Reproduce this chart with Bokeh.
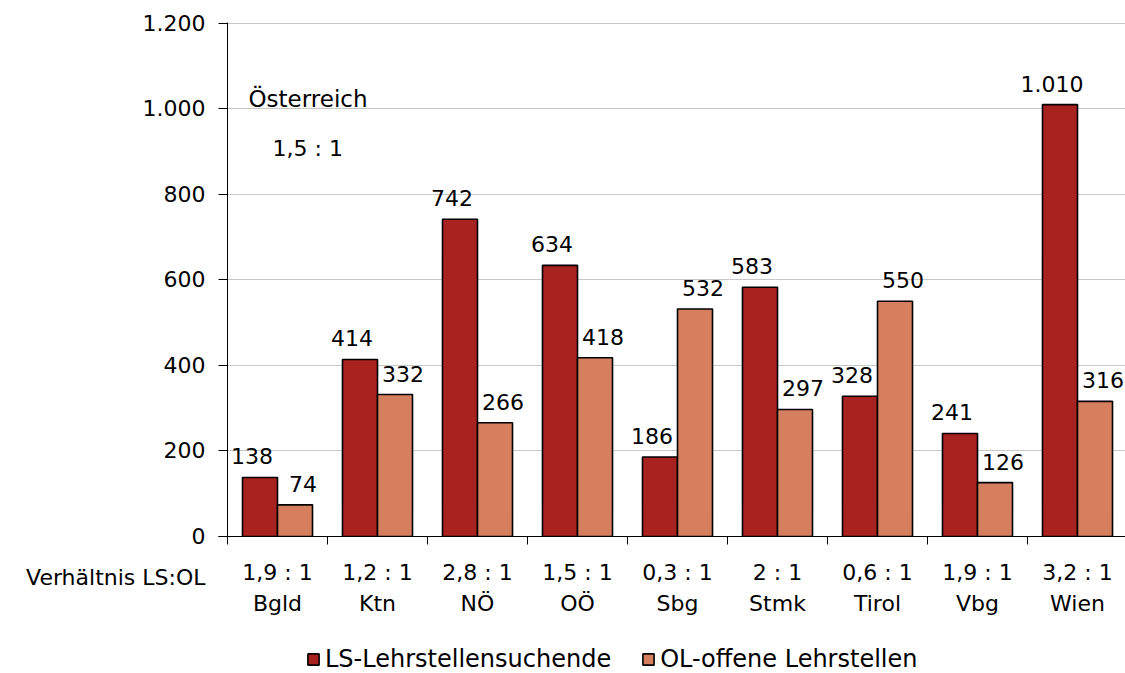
import numpy as np
from bokeh.plotting import figure
from bokeh.layouts import column
from bokeh.models import (Range1d, FixedTicker, Label, Legend, LegendItem, ColumnDataSource)
from bokeh.core.properties import value
from bokeh.embed import file_html
from bokeh.resources import INLINE

regions = ["Bgld", "Ktn", "NÖ", "OÖ", "Sbg", "Stmk", "Tirol", "Vbg", "Wien"]
ratios = ["1,9 : 1", "1,2 : 1", "2,8 : 1", "1,5 : 1", "0,3 : 1", "2 : 1", "0,6 : 1", "1,9 : 1", "3,2 : 1"]
ls_values = [138, 414, 742, 634, 186, 583, 328, 241, 1010]
ol_values = [74, 332, 266, 418, 532, 297, 550, 126, 316]
y_ticks = [0, 200, 400, 600, 800, 1000, 1200]
series_names = ["LS-Lehrstellensuchende", "OL-offene Lehrstellen"]
austria_label = "Österreich"
austria_ratio = "1,5 : 1"
row_label = "Verhältnis LS:OL"

FONT = "DejaVu Sans"
DARK = "#A8231F"
LIGHT = "#D67F5E"

def fmt(v):
    return f"{v:,}".replace(",", ".")

p = figure(width=1125, height=636, output_backend="svg", toolbar_location=None,
           x_range=Range1d(0, 8.98), y_range=Range1d(0, 1202),
           min_border_left=227, min_border_right=0, min_border_top=22, min_border_bottom=100)
p.outline_line_color = None

centers = np.arange(len(regions)) + 0.5
bw = 0.35
src_ls = ColumnDataSource(dict(x=centers - bw / 2, top=ls_values, lab=[fmt(v) for v in ls_values]))
src_ol = ColumnDataSource(dict(x=centers + bw / 2, top=ol_values, lab=[fmt(v) for v in ol_values]))

r1 = p.vbar(x="x", top="top", width=bw, source=src_ls, fill_color=DARK, line_color="black", line_width=1.6)
r2 = p.vbar(x="x", top="top", width=bw, source=src_ol, fill_color=LIGHT, line_color="black", line_width=1.6)

for s, xo in ((src_ls, -8), (src_ol, 8)):
    p.text(x="x", y="top", text="lab", source=s, text_align="center", text_baseline="alphabetic",
           x_offset=xo, y_offset=-21, text_font=value(FONT), text_font_size="22px", text_color="black")

# y axis (an extra tick just above 0 carries the row caption "Verhältnis LS:OL" below the axis)
row_tick = 0.5
p.yaxis.ticker = FixedTicker(ticks=y_ticks + [row_tick])
overrides = {t: fmt(t) for t in y_ticks}
overrides[row_tick] = "\n\n\n" + row_label
p.yaxis.major_label_overrides = overrides
p.yaxis.major_label_text_font = FONT
p.yaxis.major_label_text_font_size = "22px"
p.yaxis.major_label_text_line_height = 1.1
p.yaxis.major_label_text_color = "black"
p.yaxis.axis_line_color = "black"
p.yaxis.major_tick_line_color = "black"
p.yaxis.major_tick_out = 9
p.yaxis.major_tick_in = 0
p.yaxis.minor_tick_line_color = None
p.yaxis.major_label_standoff = 13

# x axis
p.xaxis.ticker = FixedTicker(ticks=list(centers), minor_ticks=list(range(len(regions) + 1)))
p.xaxis.major_label_overrides = {float(c): f"{r}\n{n}" for c, r, n in zip(centers, ratios, regions)}
p.xaxis.major_label_text_font = FONT
p.xaxis.major_label_text_font_size = "22px"
p.xaxis.major_label_text_color = "black"
p.xaxis.major_label_text_line_height = 1.27
p.xaxis.axis_line_color = "black"
p.xaxis.major_tick_line_color = None
p.xaxis.major_tick_out = 0
p.xaxis.major_tick_in = 0
p.xaxis.minor_tick_line_color = "black"
p.xaxis.minor_tick_out = 8
p.xaxis.minor_tick_in = 0
p.xaxis.major_label_standoff = 15

p.xgrid.grid_line_color = None
p.ygrid.grid_line_color = "#C8C8C8"
p.ygrid.ticker = FixedTicker(ticks=y_ticks)

p.add_layout(Label(x=0.21, y=1022, text=austria_label, text_baseline="middle",
                   text_font=FONT, text_font_size="23px", text_color="black"))
p.add_layout(Label(x=0.45, y=908, text=austria_ratio, text_baseline="middle",
                   text_font=FONT, text_font_size="22px", text_color="black"))

# legend strip below the chart: hidden proxy renderers, legend drawn without the inactive overlay
lg = figure(width=1125, height=37, output_backend="svg", toolbar_location=None,
            x_range=Range1d(0, 8.98), y_range=Range1d(0, 1202),
            x_axis_type=None, y_axis_type=None,
            min_border_left=0, min_border_right=0, min_border_top=0, min_border_bottom=0)
lg.outline_line_color = None
lg.grid.visible = False
g1 = lg.vbar(x="x", top="top", width=bw, source=src_ls, fill_color=DARK, line_color="black", line_width=1.6)
g2 = lg.vbar(x="x", top="top", width=bw, source=src_ol, fill_color=LIGHT, line_color="black", line_width=1.6)
g1.visible = False
g2.visible = False
legend = Legend(items=[LegendItem(label=series_names[0], renderers=[g1]),
                       LegendItem(label=series_names[1], renderers=[g2])],
                orientation="horizontal", location=(79, 0),
                label_text_font=FONT, label_text_font_size="24px", label_text_color="black",
                glyph_width=14, glyph_height=14, spacing=30, label_standoff=5,
                inactive_fill_alpha=0,
                border_line_color=None, background_fill_alpha=0, padding=0, margin=0)
lg.add_layout(legend, "center")

layout = column(p, lg, spacing=0)
open("out.html", "w").write(file_html(layout, INLINE))
